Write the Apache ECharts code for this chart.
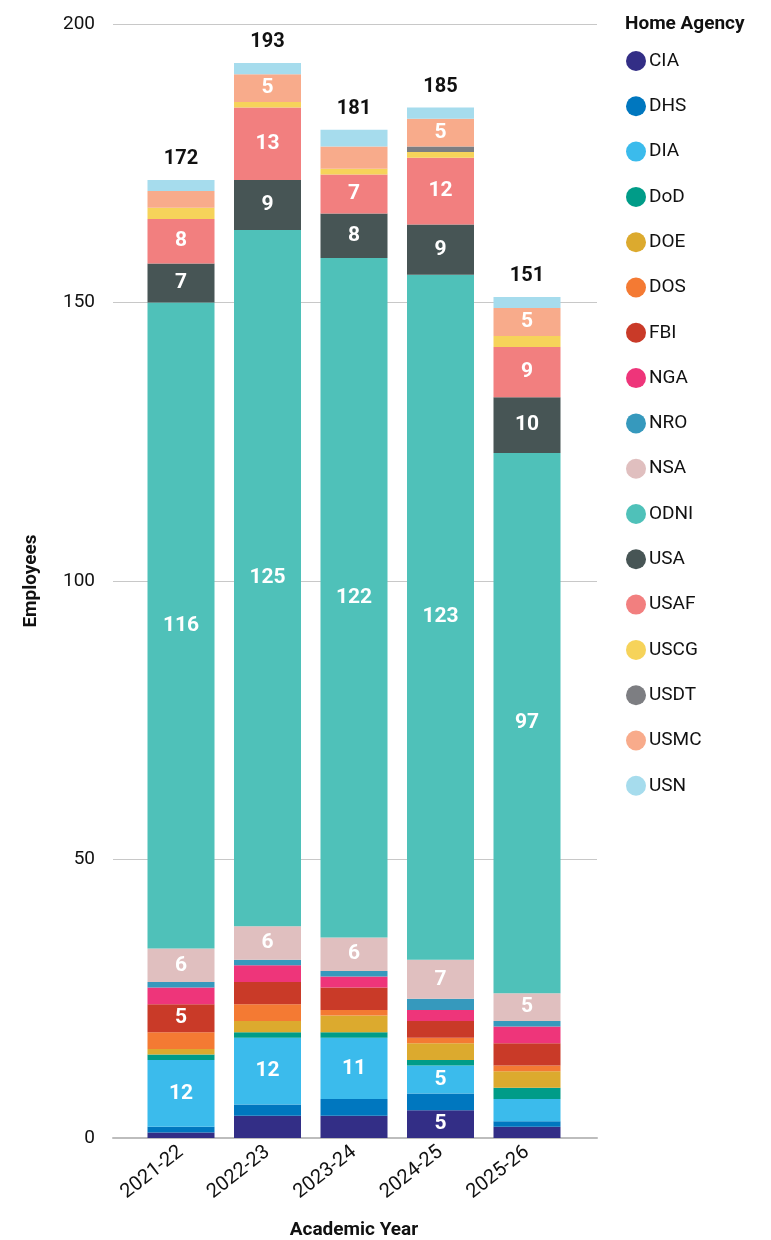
<!DOCTYPE html>
<html>
<head>
<meta charset="utf-8">
<script src="https://cdn.jsdelivr.net/npm/echarts@6/dist/echarts.min.js"></script>
<style>
  html, body { margin: 0; padding: 0; background: #fff; }
  #chart { width: 771px; height: 1240px; }
</style>
</head>
<body>
<div id="chart"></div>
<script>
// academic years on the x axis
const years = ['2021-22', '2022-23', '2023-24', '2024-25', '2025-26']

// employees per home agency, one value per academic year
const agencies = ['CIA', 'DHS', 'DIA', 'DoD', 'DOE', 'DOS', 'FBI', 'NGA', 'NRO', 'NSA', 'ODNI', 'USA', 'USAF', 'USCG', 'USDT', 'USMC', 'USN']
const cia  = [1, 4, 4, 5, 2]
const dhs  = [1, 2, 3, 3, 1]
const dia  = [12, 12, 11, 5, 4]
const dod  = [1, 1, 1, 1, 2]
const doe  = [1, 2, 3, 3, 3]
const dos  = [3, 3, 1, 1, 1]
const fbi  = [5, 4, 4, 3, 4]
const nga  = [3, 3, 2, 2, 3]
const nro  = [1, 1, 1, 2, 1]
const nsa  = [6, 6, 6, 7, 5]
const odni = [116, 125, 122, 123, 97]
const usa  = [7, 9, 8, 9, 10]
const usaf = [8, 13, 7, 12, 9]
const uscg = [2, 1, 1, 1, 2]
const usdt = [0, 0, 0, 1, 0]
const usmc = [3, 5, 4, 5, 5]
const usn  = [2, 2, 3, 2, 2]

const yTicks = { min: 0, max: 200, interval: 50 }

const colors = ['#332e86', '#0077bf', '#3bbbec', '#009c88', '#dcaa2e', '#f47a33', '#c93a28', '#ee357a',
  '#3699bd', '#e0bfbf', '#4fc1b9', '#475555', '#f27f7f', '#f6d35a', '#7d7e82', '#f8ab8b', '#a6dced']

const seriesData = [cia, dhs, dia, dod, doe, dos, fbi, nga, nro, nsa, odni, usa, usaf, uscg, usdt, usmc, usn]
const totals = years.map((y, i) => seriesData.reduce((s, arr) => s + arr[i], 0))

const font = 'Roboto, "Liberation Sans", sans-serif'

const series = agencies.map((name, k) => ({
  name,
  type: 'bar',
  stack: 'total',
  xAxisIndex: 1,
  yAxisIndex: 1,
  barWidth: 67,
  itemStyle: { color: colors[k] },
  label: {
    show: true,
    position: 'inside',
    color: '#fff',
    fontFamily: font,
    fontWeight: 'bold',
    fontSize: 21,
    formatter: p => (p.value >= 5 ? p.value : '')
  },
  data: seriesData[k]
}))

// totals above each bar, carried by the top segment
series[series.length - 1].label = {
  show: true,
  position: 'top',
  distance: 11,
  color: '#111',
  fontFamily: font,
  fontWeight: 'bold',
  fontSize: 20,
  formatter: p => totals[p.dataIndex]
}

const chart = echarts.init(document.getElementById('chart'))
chart.setOption({
  animation: false,
  color: colors,
  title: {
    text: 'Home Agency',
    left: 620,
    top: 10,
    textStyle: { fontFamily: font, fontWeight: 'bold', fontSize: 19, color: '#111' }
  },
  legend: {
    orient: 'vertical',
    left: 626,
    top: 51,
    padding: 0,
    icon: 'circle',
    itemWidth: 20,
    itemHeight: 20,
    itemGap: 25.3,
    textStyle: { fontFamily: font, fontSize: 19, color: '#111', padding: [0, 0, 0, -2] },
    data: agencies
  },
  grid: [
    { left: 113, right: 174, top: 24, bottom: 102, outerBoundsMode: 'none' },
    { left: 137.75, right: 200.75, top: 24, bottom: 102, outerBoundsMode: 'none' }
  ],
  xAxis: [
    {
      gridIndex: 0,
      type: 'value',
      min: 0,
      max: 1,
      axisLine: { show: true, onZero: false, lineStyle: { color: '#bdbdbd', width: 2 } },
      axisTick: { show: false },
      axisLabel: { show: false },
      splitLine: { show: false }
    },
    {
      gridIndex: 1,
      type: 'category',
      data: years,
      axisLine: { show: false },
      axisTick: { show: false },
      axisLabel: {
        rotate: 38,
        margin: 12,
        fontFamily: font,
        fontSize: 20,
        color: '#111'
      },
      name: 'Academic Year',
      nameLocation: 'middle',
      nameGap: 83,
      nameTextStyle: { fontFamily: font, fontWeight: 'bold', fontSize: 19, color: '#111' }
    }
  ],
  yAxis: [
    {
      gridIndex: 0,
      type: 'value',
      min: yTicks.min,
      max: yTicks.max,
      interval: yTicks.interval,
      axisLine: { show: false },
      axisTick: { show: false },
      axisLabel: { fontFamily: font, fontSize: 19, color: '#111', margin: 18 },
      splitLine: { lineStyle: { color: '#c8c8c8', width: 1 } },
      name: 'Employees',
      nameLocation: 'middle',
      nameGap: 72,
      nameTextStyle: { fontFamily: font, fontWeight: 'bold', fontSize: 19, color: '#111' }
    },
    {
      gridIndex: 1,
      type: 'value',
      min: yTicks.min,
      max: yTicks.max,
      interval: yTicks.interval,
      show: false,
      splitLine: { show: false }
    }
  ],
  series
})
</script>
</body>
</html>
